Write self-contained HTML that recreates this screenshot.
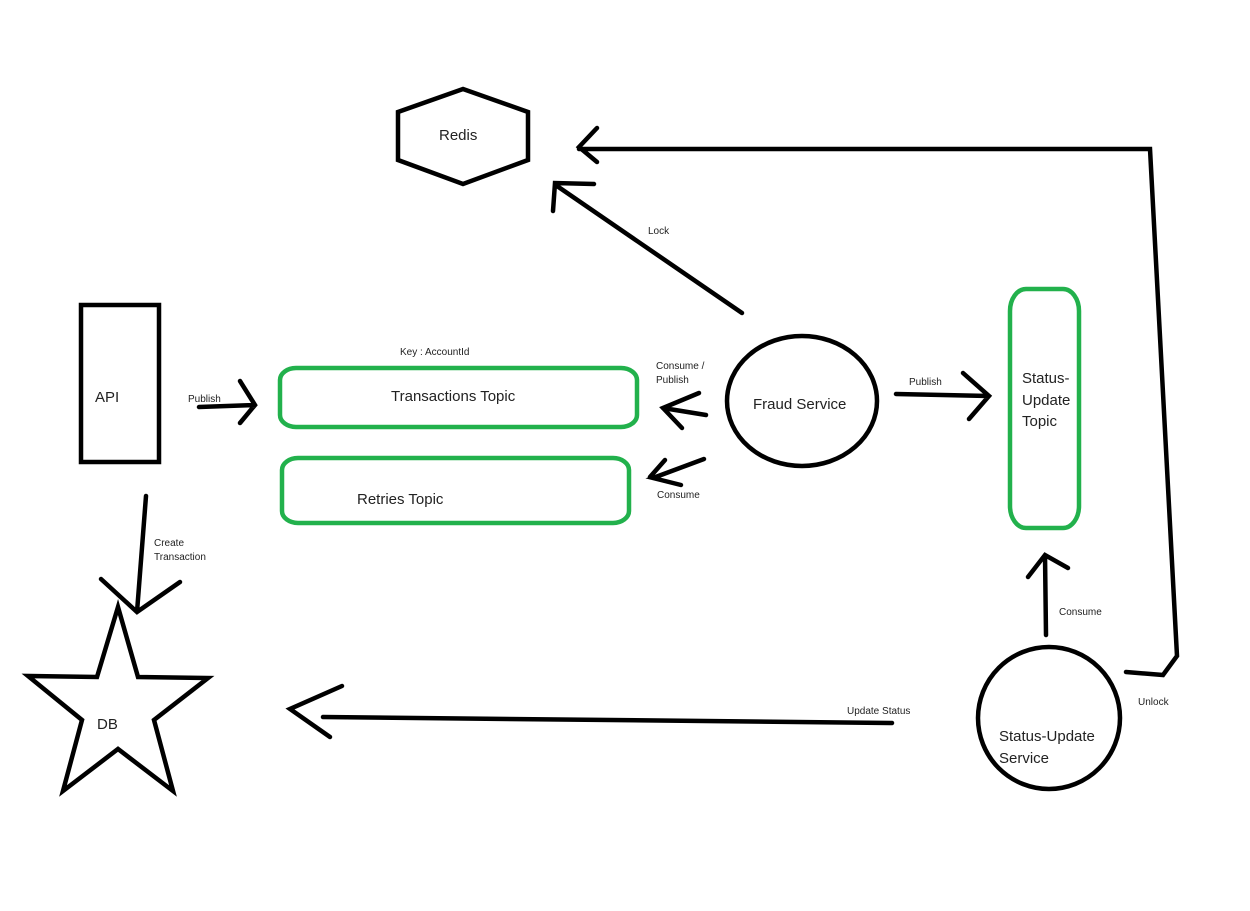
<!DOCTYPE html>
<html><head><meta charset="utf-8"><style>
html,body{margin:0;padding:0;background:#fff;}
svg{display:block;}
text{font-family:"Liberation Sans",sans-serif;fill:#222;}
.s{font-size:10px;}
.m{font-size:15px;}
</style></head><body>
<svg width="1250" height="911" viewBox="0 0 1250 911" xmlns="http://www.w3.org/2000/svg">
<g fill="none" stroke="#000" stroke-width="4.5" stroke-linecap="round" stroke-linejoin="miter">
<polygon points="463,89 528,112 528,160 463,184 398,160 398,112"/>
<rect x="81" y="305" width="78" height="157"/>
<path d="M199,407 L255,405 M240,381 L255,405 L240,423"/>
<ellipse cx="802" cy="401" rx="75" ry="65"/>
<path d="M742,313 L557,186 M553,211 L555,183 L594,184"/>
<path d="M1126,672 L1163,675 L1177,656 L1150,149 L579,149 M597,128 L579,147 L597,162"/>
<path d="M706,415 L663,408 M699,393 L663,408 L682,428"/>
<path d="M704,459 L653,478 L681,485 M665,460 L650,477"/>
<path d="M896,394 L989,396 M963,373 L989,396 L969,419"/>
<path d="M1046,635 L1045,555 M1028,577 L1045,555 L1068,568"/>
<ellipse cx="1049" cy="718" rx="71" ry="71"/>
<path d="M892,723 L323,717 M342,686 L290,709 L330,737"/>
<path d="M146,496 L137,612 M101,579 L137,612 L180,582"/>
<polygon points="118,607 138,677 208,678 154,720 173,791 118,749 63,791 82,720 28,676 97,677"/>
</g>
<g fill="none" stroke="#22b14c" stroke-width="4.5">
<rect x="280" y="368" width="357" height="59" rx="16" ry="12"/>
<rect x="282" y="458" width="347" height="65" rx="16" ry="12"/>
<rect x="1010" y="289" width="69" height="239" rx="16" ry="22"/>
</g>
<text class="m" x="439" y="140">Redis</text>
<text class="m" x="95" y="402">API</text>
<text class="s" x="188" y="402">Publish</text>
<text class="s" x="400" y="355">Key : AccountId</text>
<text class="m" x="391" y="401">Transactions Topic</text>
<text class="m" x="357" y="504">Retries Topic</text>
<text class="s" x="648" y="234">Lock</text>
<text class="s" x="656" y="369">Consume /</text>
<text class="s" x="656" y="383">Publish</text>
<text class="s" x="657" y="498">Consume</text>
<text class="m" x="753" y="409">Fraud Service</text>
<text class="s" x="909" y="385">Publish</text>
<text class="m" x="1022" y="383">Status-</text>
<text class="m" x="1022" y="405">Update</text>
<text class="m" x="1022" y="426">Topic</text>
<text class="s" x="1059" y="615">Consume</text>
<text class="s" x="1138" y="705">Unlock</text>
<text class="s" x="847" y="714">Update Status</text>
<text class="m" x="999" y="741">Status-Update</text>
<text class="m" x="999" y="763">Service</text>
<text class="s" x="154" y="546">Create</text>
<text class="s" x="154" y="560">Transaction</text>
<text class="m" x="97" y="729">DB</text>
</svg>
</body></html>
